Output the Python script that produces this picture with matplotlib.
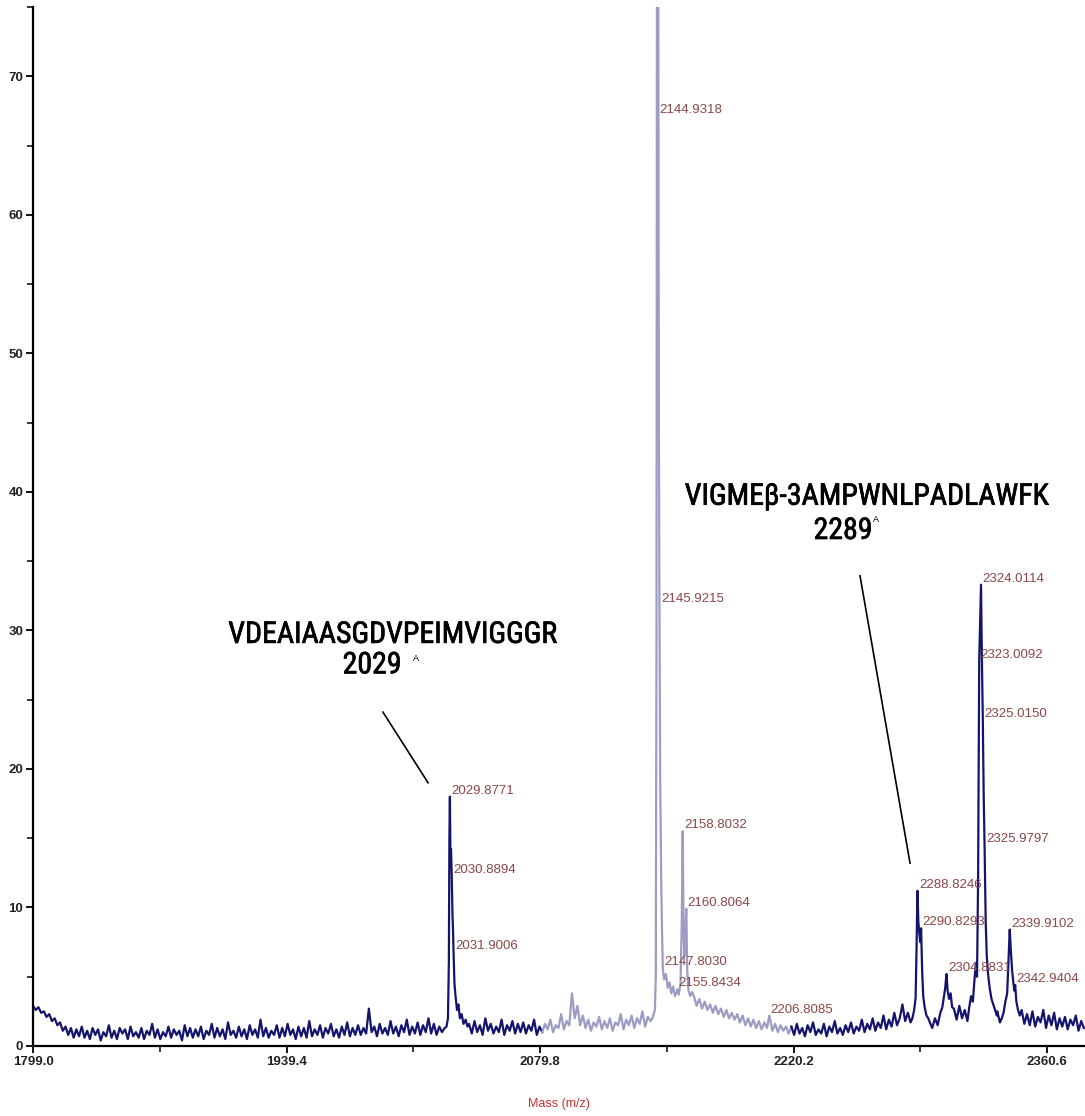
import numpy as np
import matplotlib
matplotlib.use("Agg")
import matplotlib.pyplot as plt
import matplotlib.patheffects as pe
from matplotlib import font_manager as fm

# ---------------------------------------------------------------------------
# Spectrum data (m/z, relative intensity in %)
# Baseline readings every 1.5 Da starting at 1799.0 (one row = 30 Da)
# ---------------------------------------------------------------------------
BASE_START, BASE_STEP = 1799.0, 1.5
baseline = [
    2.9, 2.6, 2.8, 2.4, 2.5, 2.1, 2.3, 1.8, 2.0, 1.5, 1.7, 1.1, 1.4, 0.8, 1.3, 0.6, 1.2, 0.7, 1.4, 0.6,  # 1799
    1.1, 0.5, 1.3, 0.8, 1.2, 0.4, 1.0, 0.7, 1.5, 0.6, 1.1, 0.5, 1.3, 0.9, 1.2, 0.5, 1.4, 0.7, 1.0, 0.6,  # 1829
    1.3, 0.5, 1.1, 0.8, 1.6, 0.6, 1.2, 0.5, 1.0, 0.7, 1.4, 0.6, 1.2, 0.8, 1.1, 0.4, 1.5, 0.7, 1.3, 0.6,  # 1859
    1.2, 0.7, 1.4, 0.5, 1.1, 0.8, 1.6, 0.6, 1.3, 0.7, 1.2, 0.5, 1.7, 0.8, 1.1, 0.6, 1.4, 0.7, 1.2, 0.5,  # 1889
    1.5, 0.8, 1.2, 0.6, 1.9, 0.7, 1.3, 0.6, 1.1, 0.8, 1.5, 0.6, 1.3, 0.7, 1.6, 0.8, 1.2, 0.5, 1.4, 0.7,  # 1919
    1.3, 0.6, 1.8, 0.7, 1.2, 0.8, 1.5, 0.6, 1.3, 0.9, 1.6, 0.7, 1.2, 0.6, 1.4, 0.8, 1.7, 0.7, 1.3, 0.8,  # 1949
    1.5, 0.8, 1.3, 0.9, 2.7, 1.0, 1.4, 0.7, 1.6, 0.9, 1.3, 0.8, 1.8, 0.9, 1.4, 0.7, 1.5, 1.0, 1.9, 0.8,  # 1979
    1.4, 0.9, 1.7, 0.8, 1.5, 1.0, 2.0, 0.9, 1.6, 0.8, 1.4, 1.0, 1.3, 1.5, 1.5, 1.5, 1.5, 1.5, 1.5, 1.5,  # 2009
    1.5, 1.6, 0.9, 1.8, 1.0, 1.5, 0.8, 2.0, 1.1, 1.6, 0.9, 1.4, 1.0, 1.9, 0.8, 1.5, 1.1, 1.8, 0.9, 1.6,  # 2039
    1.0, 1.7, 0.9, 1.5, 1.1, 1.9, 0.8, 1.4, 1.0, 1.6, 1.2, 1.9, 1.0, 1.5, 1.3, 2.3, 1.2, 1.8, 1.5, 3.8,  # 2069
    2.0, 2.9, 1.5, 2.2, 1.3, 1.9, 1.1, 1.7, 1.4, 2.1, 1.2, 1.8, 1.3, 2.0, 1.1, 1.7, 1.5, 2.3, 1.2, 1.9,  # 2099
    1.5, 2.2, 1.3, 2.0, 1.6, 2.5, 1.4, 2.1, 1.8, 2.0, 2.0, 2.0, 2.0, 2.0, 2.0, 2.0, 2.0, 2.0, 2.0, 2.0,  # 2129
    3.0, 3.0, 3.0, 3.0, 3.6, 2.9, 3.4, 2.7, 3.2, 2.6, 3.0, 2.4, 2.9, 2.3, 2.7, 2.1, 2.6, 2.0, 2.4, 1.9,  # 2159
    2.3, 1.7, 2.2, 1.5, 2.0, 1.4, 1.9, 1.3, 1.8, 1.2, 1.7, 1.3, 1.3, 1.1, 1.6, 1.0, 1.5, 1.1, 1.4, 0.9,  # 2189
    1.4, 0.8, 1.6, 0.9, 1.3, 0.7, 1.5, 1.0, 1.7, 0.8, 1.2, 0.9, 1.6, 0.7, 1.4, 1.0, 1.8, 0.9, 1.3, 0.8,  # 2219
    1.5, 1.0, 1.7, 0.9, 1.4, 1.1, 1.9, 1.0, 1.6, 1.2, 2.0, 1.1, 1.7, 1.3, 2.2, 1.2, 1.9, 1.4, 2.4, 1.5,  # 2249
    2.0, 3.0, 1.8, 2.4, 1.7, 2.0, 2.0, 2.0, 2.0, 2.0, 2.0, 2.0, 1.3, 2.0, 1.5, 2.0, 2.0, 2.0, 2.0, 2.0,  # 2279
    2.7, 1.9, 2.9, 2.0, 2.6, 1.8, 2.0, 2.0, 2.0, 2.0, 2.0, 2.0, 2.0, 2.0, 2.0, 2.0, 2.5, 1.7, 2.0, 2.0,  # 2309
    2.0, 2.0, 2.0, 2.0, 2.0, 2.6, 1.6, 2.3, 1.5, 2.5, 1.4, 2.1, 1.7, 2.6, 1.3, 2.2, 1.5, 2.4, 1.2, 2.0,  # 2339
    1.4, 2.1, 1.2, 1.9, 1.5, 2.2, 1.1, 1.8, 1.3,                                                        # 2369
]

# Peak clusters: profile vertices (m/z, intensity)
peak_2029_mz = [2028.0, 2028.8, 2029.3, 2029.6, 2029.8771, 2030.2, 2030.5, 2030.8894,
                2031.3, 2031.6, 2031.9006, 2032.4, 2033.0, 2033.8, 2034.6, 2035.4,
                2036.4, 2037.4, 2038.6, 2039.6]
peak_2029_int = [1.4, 2.0, 6.0, 15.0, 18.0, 13.5, 14.2, 12.3,
                 9.5, 8.4, 6.8, 4.5, 3.6, 2.6, 3.0, 2.0,
                 2.3, 1.6, 1.9, 1.4]

peak_2144_mz = [2142.0, 2143.4, 2143.9, 2144.3, 2144.6, 2144.9318, 2145.3, 2145.6,
                2145.9215, 2146.3, 2146.9, 2147.4, 2147.8030, 2148.5, 2149.5, 2150.5,
                2151.5, 2152.5, 2153.5, 2154.5, 2155.4, 2155.8434, 2156.6, 2157.6,
                2158.3, 2158.8032, 2159.3, 2159.8, 2160.3, 2160.8064, 2161.3, 2162.0,
                2163.0, 2164.0]
peak_2144_int = [2.0, 2.6, 5.0, 30.0, 90.0, 110.0, 75.0, 45.0,
                 31.8, 20.0, 12.0, 8.0, 5.6, 4.8, 5.2, 4.2,
                 4.6, 3.8, 4.3, 3.6, 3.9, 4.1, 3.7, 4.5,
                 9.0, 15.5, 8.0, 6.5, 8.5, 9.9, 5.5, 4.0,
                 3.6, 3.9]

peak_2206_mz = [2205.5, 2206.8085, 2208.0]
peak_2206_int = [1.3, 2.2, 1.4]

peak_2288_mz = [2286.0, 2287.0, 2287.8, 2288.3, 2288.8246, 2289.3, 2289.8, 2290.3,
                2290.8293, 2291.4, 2292.0, 2292.8, 2293.8, 2294.8, 2296.0]
peak_2288_int = [2.0, 2.6, 3.5, 7.0, 11.2, 9.0, 8.2, 7.5,
                 8.5, 5.5, 3.6, 2.8, 2.2, 2.0, 1.6]

peak_2304_mz = [2301.5, 2302.6, 2303.5, 2304.2, 2304.8831, 2305.5, 2306.3, 2307.2, 2308.0]
peak_2304_int = [2.4, 2.8, 3.6, 4.2, 5.2, 4.0, 3.4, 3.8, 2.8]

peak_2324_mz = [2317.5, 2318.5, 2319.5, 2320.4, 2321.2, 2321.8, 2322.4, 2323.0092,
                2324.0114, 2324.5, 2325.0150, 2325.5, 2325.9797, 2326.6, 2327.2,
                2327.9, 2328.8, 2329.8, 2330.8, 2331.8, 2332.8]
peak_2324_int = [2.8, 3.6, 3.2, 4.8, 6.0, 5.0, 12.0, 27.8,
                 33.3, 28.0, 23.5, 18.0, 14.5, 9.0, 6.5,
                 5.2, 4.2, 3.4, 3.0, 2.6, 2.2]

peak_2339_mz = [2335.5, 2336.5, 2337.5, 2338.5, 2339.3, 2339.9102, 2340.5, 2341.2,
                2341.9, 2342.5, 2342.9404, 2343.6, 2344.5, 2345.5]
peak_2339_int = [2.0, 2.4, 3.2, 3.8, 6.5, 8.4, 7.0, 5.5,
                 4.6, 4.0, 4.4, 3.2, 2.6, 2.2]

peak_clusters = [
    (peak_2029_mz, peak_2029_int), (peak_2144_mz, peak_2144_int),
    (peak_2206_mz, peak_2206_int), (peak_2288_mz, peak_2288_int),
    (peak_2304_mz, peak_2304_int), (peak_2324_mz, peak_2324_int),
    (peak_2339_mz, peak_2339_int),
]

# Labelled centroids
label_mz = [2029.8771, 2030.8894, 2031.9006, 2144.9318, 2145.9215, 2147.8030,
            2155.8434, 2158.8032, 2160.8064, 2206.8085, 2288.8246, 2290.8293,
            2304.8831, 2323.0092, 2324.0114, 2325.0150, 2325.9797, 2339.9102,
            2342.9404]
label_int = [18.0, 12.3, 6.8, 110.0, 31.8, 5.6,
             4.1, 15.5, 9.9, 2.2, 11.2, 8.5,
             5.2, 27.8, 33.3, 23.5, 14.5, 8.4,
             4.4]

x_ticks = [1799.0, 1939.4, 2079.8, 2220.2, 2360.6]
x_tick_labels = ["1799.0", "1939.4", "2079.8", "2220.2", "2360.6"]
y_ticks = [0, 10, 20, 30, 40, 50, 60, 70]

peptide_1 = "VDEAIAASGDVPEIMVIGGGR"
peptide_1_mass = "2029"
peptide_2 = "VIGMEβ-3AMPWNLPADLAWFK"
peptide_2_mass = "2289"

# ---------------------------------------------------------------------------
# Assemble trace
# ---------------------------------------------------------------------------
bi = np.array(baseline, float)
bm = BASE_START + BASE_STEP * np.arange(len(bi))
keep = np.ones(len(bm), bool)
for pm, _ in peak_clusters:
    keep &= ~((bm >= min(pm)) & (bm <= max(pm)))
mz = np.concatenate([bm[keep]] + [np.array(p[0], float) for p in peak_clusters])
inten = np.concatenate([bi[keep]] + [np.array(p[1], float) for p in peak_clusters])
order = np.argsort(mz)
mz, inten = mz[order], inten[order]

XMIN, XMAX = 1799.0, 2381.6
YMAX = 73.0
DARK = "#14146e"
LIGHT = "#9c9cc4"
LABEL_C = "#8c4646"
SANS = ["Liberation Sans", "DejaVu Sans"]

# narrow face for the sequence annotations
_installed = {f.name for f in fm.fontManager.ttflist}
_narrow = [n for n in ["Liberation Sans Narrow", "Arial Narrow", "Roboto Condensed",
                       "Archivo Narrow", "PT Sans Narrow"] if n in _installed]
NARROW = _narrow[:1] + ["Roboto", "DejaVu Sans"]

fig = plt.figure(figsize=(10.85, 11.16), dpi=100)
fig.patch.set_facecolor("white")
ax = fig.add_axes([33 / 1085, 70 / 1116, 1052 / 1085, 1039 / 1116])

lo, hi = 2080.0, 2218.0
i_lo = np.searchsorted(mz, lo)
i_hi = np.searchsorted(mz, hi)
ax.plot(mz[:i_lo + 1], inten[:i_lo + 1], color=DARK, lw=1.6)
ax.plot(mz[i_lo:i_hi + 1], inten[i_lo:i_hi + 1], color=LIGHT, lw=1.6)
ax.plot(mz[i_hi:], inten[i_hi:], color=DARK, lw=1.6)

ax.set_xlim(XMIN, XMAX)
ax.set_ylim(0, YMAX)

# peak labels
for m, h in zip(label_mz, label_int):
    y = min(h, YMAX - 5.9)
    ax.annotate(f"{m:.4f}", xy=(m, y), xytext=(1, 0), textcoords="offset points",
                ha="left", va="bottom", fontsize=9.5, color=LABEL_C, family=SANS)

# axes styling
for s in ["top", "right"]:
    ax.spines[s].set_visible(False)
for s in ["left", "bottom"]:
    ax.spines[s].set_linewidth(1.6)
    ax.spines[s].set_color("black")

ax.set_xticks(x_ticks)
ax.set_xticklabels(x_tick_labels)
ax.set_xticks([(a + b) / 2 for a, b in zip(x_ticks[:-1], x_ticks[1:])], minor=True)
ax.set_yticks(y_ticks)
ax.set_yticks([t + 5 for t in y_ticks], minor=True)
ax.tick_params(which="major", direction="out", length=5, width=1.3, pad=2)
ax.tick_params(which="minor", direction="out", length=4, width=1.1)
for lab in ax.get_xticklabels() + ax.get_yticklabels():
    lab.set_family(SANS)
    lab.set_fontweight("bold")
    lab.set_fontsize(9.5)
    lab.set_color("#222222")

ax.set_xlabel("Mass (m/z)", color="#c83030", fontsize=9, family=SANS, labelpad=22)

# peptide annotations (slightly heavier strokes)
heavy = [pe.Stroke(linewidth=0.5, foreground="black"), pe.Normal()]
ann = dict(family=NARROW, fontsize=21.5, color="black", ha="center", va="baseline",
           path_effects=heavy)
pep1 = ax.text(1998.0, 29.1, peptide_1, **ann)
mass1 = ax.text(1986.8, 26.9, peptide_1_mass, **ann)
pep2 = ax.text(2260.6, 39.07, peptide_2, **ann)
mass2 = ax.text(2247.6, 36.6, peptide_2_mass, **ann)

# size the sequence text to its printed width
fig.canvas.draw()
r = fig.canvas.get_renderer()
w1 = pep1.get_window_extent(r).width
fs = 21.5 * 328.0 / w1
for t in (pep1, mass1, pep2, mass2):
    t.set_fontsize(fs)

ax.text(2011.0, 28.0, "A", ha="center", va="center", fontsize=6.5, color="black", family=SANS)
ax.text(2266.0, 38.0, "A", ha="center", va="center", fontsize=6.5, color="black", family=SANS)
ax.plot([1992.8, 2017.8], [24.1, 19.0], color="black", lw=1.2)
ax.plot([2257.0, 2284.7], [33.94, 13.2], color="black", lw=1.2)

fig.savefig("out.png", dpi=100, facecolor="white")
